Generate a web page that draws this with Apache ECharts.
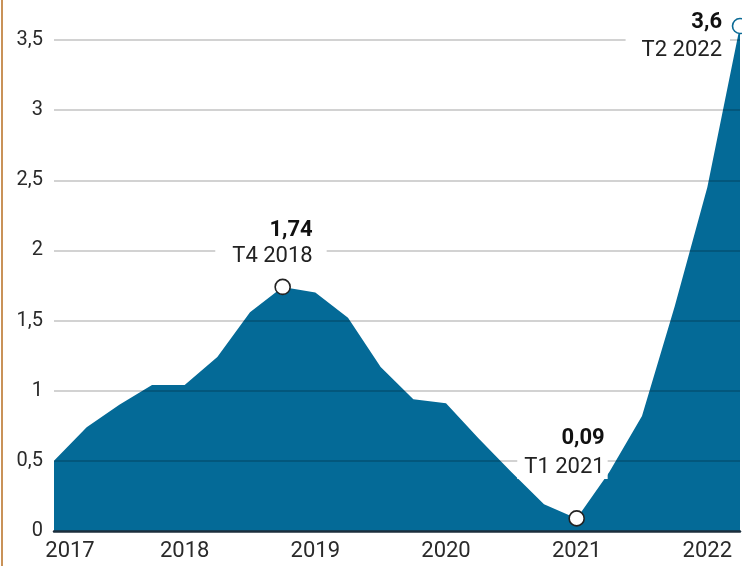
<!DOCTYPE html>
<html>
<head>
<meta charset="utf-8">
<script src="https://cdn.jsdelivr.net/npm/echarts@6/dist/echarts.min.js"></script>
<style>
html,body{margin:0;padding:0;background:#fff;}
#c{width:742px;height:566px;}
</style>
</head>
<body>
<div id="c"></div>
<script>
// Quarterly categories
const quarters = [
  'T1 2017','T2 2017','T3 2017','T4 2017',
  'T1 2018','T2 2018','T3 2018','T4 2018',
  'T1 2019','T2 2019','T3 2019','T4 2019',
  'T1 2020','T2 2020','T3 2020','T4 2020',
  'T1 2021','T2 2021','T3 2021','T4 2021',
  'T1 2022','T2 2022'
];
// Series values
const values = [
  0.50, 0.74, 0.90, 1.04,
  1.04, 1.24, 1.56, 1.74,
  1.70, 1.52, 1.17, 0.94,
  0.91, 0.66, 0.42, 0.19,
  0.09, 0.42, 0.82, 1.60,
  2.45, 3.60
];
// Y tick values
const yTicks = [0, 0.5, 1, 1.5, 2, 2.5, 3, 3.5];
// Highlighted quarters
const highlightQuarters = ['T4 2018', 'T1 2021', 'T2 2022'];

const fmt = v => String(v).replace('.', ',');

const FONT = 'Roboto';
const labelCfg = {
  'T4 2018': {offset: [44, -43], lh: 26, pad: [0, 14, 0, 17], border: '#222'},
  'T1 2021': {offset: [31, -65], lh: 29, pad: [0, 3, 0, 7], border: '#222'},
  'T2 2022': {offset: [-10, 10], lh: 28, pad: [0, 8, 0, 16], border: '#0b6a95'}
};

const scatterData = highlightQuarters.map(q => {
  const i = quarters.indexOf(q);
  const c = labelCfg[q];
  return {
    value: [q, values[i]],
    itemStyle: {color: '#fff', borderColor: c.border, borderWidth: 1.6, opacity: 1},
    label: {
      show: true,
      position: 'inside',
      align: 'right',
      verticalAlign: 'middle',
      offset: c.offset,
      formatter: '{b|' + fmt(values[i]) + '}\n{t|' + q + '}',
      rich: {
        b: {fontFamily: FONT, fontSize: 22, fontWeight: 'bold', color: '#111', lineHeight: c.lh, padding: c.pad, align: 'right'},
        t: {fontFamily: FONT, fontSize: 22, color: '#222', lineHeight: c.lh, padding: c.pad, backgroundColor: '#fff', align: 'right'}
      }
    }
  };
});

const chart = echarts.init(document.getElementById('c'), null, {renderer: 'canvas'});
chart.setOption({
  animation: false,
  backgroundColor: '#fff',
  grid: {left: 54, right: 2, top: 26, bottom: 35, containLabel: false},
  xAxis: {
    type: 'category',
    data: quarters,
    boundaryGap: false,
    z: 3,
    axisLine: {show: true, lineStyle: {color: '#1c2f3d', width: 2.5}},
    axisTick: {show: false},
    splitLine: {show: false},
    axisLabel: {
      interval: (idx) => idx % 4 === 0,
      margin: 9,
      color: '#2a2a2a',
      fontFamily: FONT,
      fontSize: 22,
      formatter: (v, idx) => {
        const y = v.split(' ')[1];
        return idx === 0 ? '{f|' + y + '}' : y;
      },
      rich: {f: {fontFamily: FONT, fontSize: 22, color: '#2a2a2a', padding: [0, 0, 0, 32]}}
    }
  },
  yAxis: {
    type: 'value',
    min: 0,
    max: 3.6,
    interval: 0.5,
    z: 3,
    axisLine: {show: false},
    axisTick: {show: false},
    splitLine: {show: true, showMinLine: false, showMaxLine: false, lineStyle: {color: 'rgba(0,0,0,0.24)', width: 1.5}},
    axisLabel: {
      margin: 11,
      color: '#2a2a2a',
      fontFamily: FONT,
      fontSize: 20,
      showMaxLabel: false,
      formatter: v => yTicks.indexOf(v) >= 0 ? fmt(v) : ''
    }
  },
  series: [
    {
      type: 'line',
      data: values,
      showSymbol: false,
      lineStyle: {width: 0},
      areaStyle: {color: '#046a97', opacity: 1},
      z: 2
    },
    {
      type: 'scatter',
      data: scatterData,
      symbol: 'circle',
      symbolSize: 15,
      itemStyle: {opacity: 1},
      emphasis: {disabled: true},
      z: 10
    }
  ],
  graphic: [
    {type: 'rect', left: 1, top: 0, shape: {width: 2, height: 566}, style: {fill: '#c99258'}, z: 100}
  ]
});
</script>
</body>
</html>
